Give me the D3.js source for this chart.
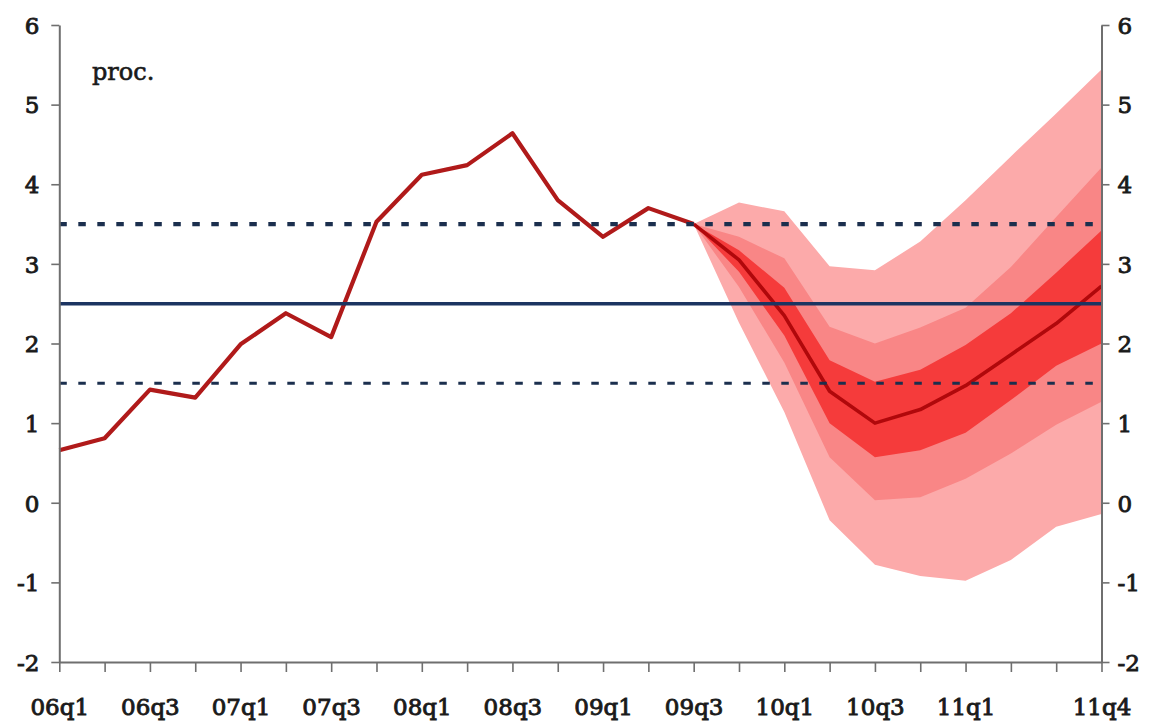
<!DOCTYPE html>
<html>
<head>
<meta charset="utf-8">
<script src="https://cdn.jsdelivr.net/npm/d3@7"></script>
<style>
  html, body { margin: 0; padding: 0; background: #ffffff; }
  svg { display: block; }
  .lbl { font-family: "DejaVu Serif", serif; fill: #1a1a1a; stroke: #1a1a1a; stroke-width: 0.9px; }
</style>
</head>
<body>
<svg id="chart" width="1153" height="724"></svg>
<script>
// Quarters on the horizontal axis
const quarters = [
  "06q1","06q2","06q3","06q4","07q1","07q2","07q3","07q4",
  "08q1","08q2","08q3","08q4","09q1","09q2","09q3","09q4",
  "10q1","10q2","10q3","10q4","11q1","11q2","11q3","11q4"
];
const xTickLabels = ["06q1","06q3","07q1","07q3","08q1","08q3","09q1","09q3","10q1","10q3","11q1","11q4"];
const yTicks = [-2, -1, 0, 1, 2, 3, 4, 5, 6];

// Observed inflation, 06q1 – 09q3 (%)
const actual = [0.66, 0.81, 1.42, 1.32, 1.99, 2.38, 2.08, 3.53, 4.12, 4.24, 4.64, 3.80, 3.34, 3.70, 3.50];

// Projection, 09q3 – 11q4: central path and fan band edges
const fanQuarters = ["09q3","09q4","10q1","10q2","10q3","10q4","11q1","11q2","11q3","11q4"];
const central = [3.50, 3.05, 2.35, 1.40, 1.00, 1.17, 1.47, 1.86, 2.25, 2.72];
const outerHi = [3.50, 3.77, 3.66, 2.97, 2.92, 3.28, 3.80, 4.35, 4.89, 5.44];
const midHi   = [3.50, 3.34, 3.07, 2.21, 2.00, 2.20, 2.45, 2.96, 3.59, 4.21];
const innerHi = [3.50, 3.17, 2.70, 1.79, 1.52, 1.67, 1.98, 2.38, 2.89, 3.42];
const innerLo = [3.50, 2.90, 2.10, 1.00, 0.57, 0.66, 0.88, 1.29, 1.72, 2.00];
const midLo   = [3.50, 2.71, 1.76, 0.57, 0.03, 0.07, 0.30, 0.62, 0.98, 1.27];
const outerLo = [3.50, 2.26, 1.14, -0.22, -0.78, -0.92, -0.98, -0.72, -0.30, -0.14];

// Inflation target and tolerance band
const target = 2.5;
const toleranceBand = [1.5, 3.5];

const svg = d3.select("#chart");
const x = d3.scalePoint().domain(quarters).range([59.3, 1101.5]).padding(0);
const y = d3.scaleLinear().domain([-2, 6]).range([662, 25]);

// Fan bands, widest first
const fanRows = fanQuarters.map((q, i) => ({
  q, c: central[i],
  oh: outerHi[i], mh: midHi[i], ih: innerHi[i],
  il: innerLo[i], ml: midLo[i], ol: outerLo[i]
}));
const bands = [
  { lo: "ol", hi: "oh", color: "#fcaaaa" },
  { lo: "ml", hi: "mh", color: "#f98686" },
  { lo: "il", hi: "ih", color: "#f53b3b" }
];
bands.forEach(b => {
  svg.append("path")
    .attr("fill", b.color)
    .attr("d", d3.area()
      .x(d => x(d.q))
      .y0(d => y(d[b.lo]))
      .y1(d => y(d[b.hi]))(fanRows));
});

// Central projection
svg.append("path")
  .attr("fill", "none")
  .attr("stroke", "#b0080b")
  .attr("stroke-width", 3.6)
  .attr("stroke-linejoin", "round")
  .attr("d", d3.line().x(d => x(d.q)).y(d => y(d.c))(fanRows));

// Observed series
svg.append("path")
  .attr("fill", "none")
  .attr("stroke", "#b01a1a")
  .attr("stroke-width", 4.2)
  .attr("stroke-linejoin", "round")
  .attr("d", d3.line().x((d, i) => x(quarters[i])).y(d => y(d))(actual));

// Target line and tolerance band
const x0 = x(quarters[0]), x1 = x(quarters[quarters.length - 1]);
svg.append("line")
  .attr("x1", x0).attr("x2", x1)
  .attr("y1", y(target)).attr("y2", y(target))
  .attr("stroke", "#1c3461").attr("stroke-width", 3.6);
svg.append("line")
  .attr("x1", x0).attr("x2", x1)
  .attr("y1", y(toleranceBand[1])).attr("y2", y(toleranceBand[1]))
  .attr("stroke", "#1b2f4e").attr("stroke-width", 4.2)
  .attr("stroke-dasharray", "7.5 11.5");
svg.append("line")
  .attr("x1", x0).attr("x2", x1)
  .attr("y1", y(toleranceBand[0])).attr("y2", y(toleranceBand[0]))
  .attr("stroke", "#1b2f4e").attr("stroke-width", 3)
  .attr("stroke-dasharray", "7.5 11.5");

// Axes
const axisColor = "#6f6f6f";
const fmt = d => String(d);
function styleAxis(g) {
  g.selectAll(".domain").attr("stroke", axisColor).attr("stroke-width", 2);
  g.selectAll(".tick line").attr("stroke", axisColor).attr("stroke-width", 1.6);
  g.selectAll(".tick text").attr("class", "lbl").style("font-size", "23px");
}

const yLeft = svg.append("g")
  .attr("transform", `translate(${x0},0)`)
  .call(d3.axisLeft(y).tickValues(yTicks).tickSize(8).tickSizeOuter(0).tickPadding(12).tickFormat(fmt));
styleAxis(yLeft);
yLeft.selectAll(".tick text").attr("dy", "0.36em");

const yRight = svg.append("g")
  .attr("transform", `translate(${x1},0)`)
  .call(d3.axisRight(y).tickValues(yTicks).tickSize(8).tickSizeOuter(0).tickPadding(8).tickFormat(fmt));
styleAxis(yRight);
yRight.selectAll(".tick text").attr("dy", "0.36em");

const xAxis = svg.append("g")
  .attr("transform", `translate(0,${y(-2)})`)
  .call(d3.axisBottom(x).tickSize(10).tickSizeOuter(0)
    .tickFormat(d => xTickLabels.includes(d) ? d : ""));
styleAxis(xAxis);
xAxis.selectAll(".tick text").attr("y", 53).attr("dy", 0);

// Unit label
svg.append("text")
  .attr("class", "lbl")
  .attr("x", 92).attr("y", 80)
  .style("font-size", "24px")
  .style("stroke-width", "0.6px")
  .text("proc.");
</script>
</body>
</html>
